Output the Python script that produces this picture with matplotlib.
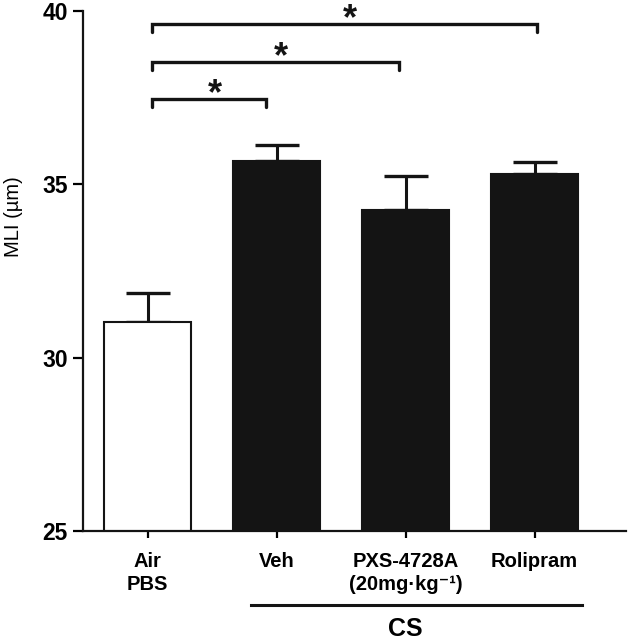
import matplotlib
matplotlib.use("Agg")
import matplotlib.pyplot as plt

plt.rcParams['font.family'] = ['Liberation Sans', 'DejaVu Sans']

categories = ["Air\nPBS", "Veh", "PXS-4728A\n(20mg\u00b7kg\u207b\u00b9)", "Rolipram"]
means = [31.02, 35.68, 34.25, 35.31]
sems = [0.84, 0.46, 0.98, 0.34]
colors = ["white", "#141414", "#141414", "#141414"]
yticks = [25, 30, 35, 40]
# significance comparisons: (from index, to index, bracket y, label)
comparisons = [(0, 1, 37.46, "*"), (0, 2, 38.53, "*"), (0, 3, 39.62, "*")]
group_label = "CS"
group_members = [1, 3]

fig = plt.figure(figsize=(6.3, 6.42), dpi=100)
ax = fig.add_axes([0.132, 0.173, 0.862, 0.810])

x = list(range(len(categories)))
ax.bar(x, means, width=0.675, color=colors, edgecolor="#141414", linewidth=1.5, zorder=2)
ax.errorbar(x, means, yerr=[[0] * len(sems), sems], fmt="none", ecolor="#141414",
            elinewidth=2.2, capsize=16, capthick=2.4, zorder=1)

ax.set_ylim(25, 40)
ax.set_xlim(-0.5, 3.71)
ax.set_yticks(yticks)
ax.set_yticklabels([str(t) for t in yticks], fontsize=16.5, fontweight="bold")
ax.set_xticks(x)
ax.set_xticklabels(categories, fontsize=14.5, fontweight="bold", linespacing=1.3)
ax.set_ylabel("MLI (\u00b5m)", fontsize=14.5)
ax.yaxis.set_label_coords(-0.11, 0.604)

for s in ["top", "right"]:
    ax.spines[s].set_visible(False)
for s in ["left", "bottom"]:
    ax.spines[s].set_linewidth(1.6)
    ax.spines[s].set_color("#141414")
ax.tick_params(axis="y", direction="out", length=7, width=1.6, pad=4)
ax.tick_params(axis="x", direction="out", length=5, width=1.6, pad=10)

# significance brackets
drop = 0.23
end_shift = [-0.08, -0.05, 0.02]
for (i, j, yb, lab), es in zip(comparisons, end_shift):
    x0 = i + 0.03
    x1 = j + es
    ax.plot([x0, x0, x1, x1], [yb - drop, yb, yb, yb - drop], color="#141414",
            lw=2.4, solid_capstyle="round", solid_joinstyle="miter", clip_on=False)
    ax.text((x0 + x1) / 2 + 0.045, yb + 0.12, lab, ha="center", va="center",
            fontsize=26, fontweight="bold", color="#141414")

# CS group line
trans = ax.get_xaxis_transform()
ax.plot([group_members[0] - 0.2, group_members[1] + 0.37], [-0.143, -0.143], color="#141414",
        lw=2.2, transform=trans, clip_on=False)
ax.text((group_members[0] + group_members[1]) / 2 + 0.0, -0.188, group_label, transform=trans,
        ha="center", va="center", fontsize=18, fontweight="bold")

fig.savefig("out.png", dpi=100, facecolor="white")
